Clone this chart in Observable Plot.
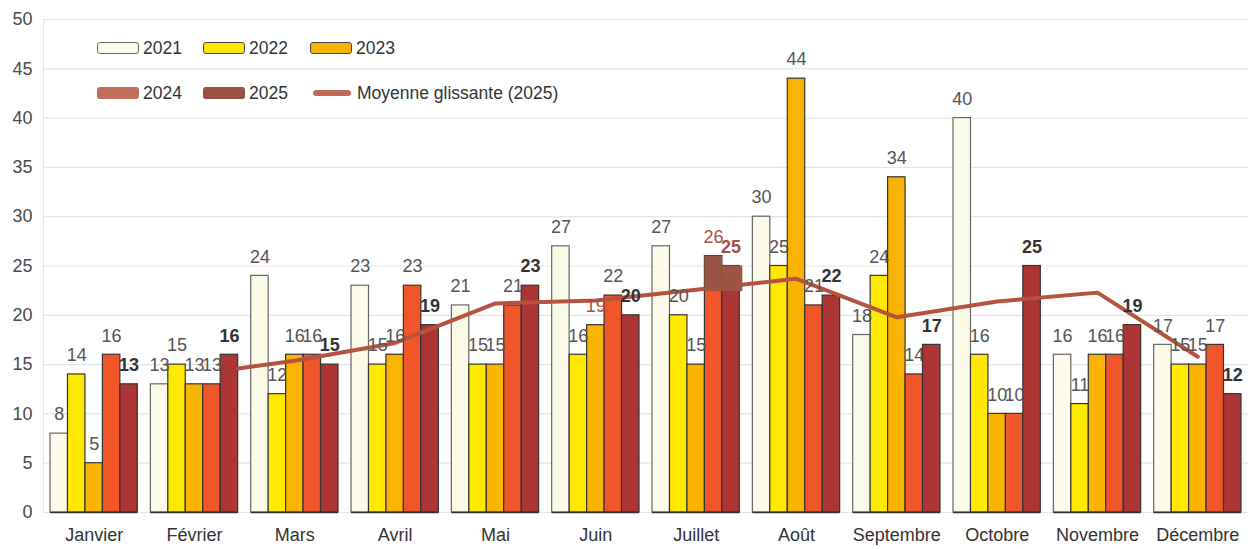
<!DOCTYPE html>
<html><head><meta charset="utf-8">
<script src="https://cdn.jsdelivr.net/npm/d3@7"></script>
<script src="https://cdn.jsdelivr.net/npm/@observablehq/plot@0.6"></script>
<style>
body{margin:0;background:#fff;font-family:"Liberation Sans",Arial,sans-serif;}
#wrap{position:relative;width:1248px;height:549px;overflow:hidden;}
.lg{position:absolute;display:flex;align-items:center;font-size:17.5px;color:#333;white-space:nowrap;height:20px;}
.sw{width:42px;height:12px;border-radius:3px;margin-right:4px;box-sizing:border-box;}
.ln{width:38px;height:6px;border-radius:3px;margin-right:6px;}
</style></head><body><div id="wrap"></div>
<script>
const months = ["Janvier","Février","Mars","Avril","Mai","Juin","Juillet","Août","Septembre","Octobre","Novembre","Décembre"];
const years = [2021, 2022, 2023, 2024, 2025];
const v2021 = [8, 13, 24, 23, 21, 27, 27, 30, 18, 40, 16, 17];
const v2022 = [14, 15, 12, 15, 15, 16, 20, 25, 24, 16, 11, 15];
const v2023 = [5, 13, 16, 16, 15, 19, 15, 44, 34, 10, 16, 15];
const v2024 = [16, 13, 16, 23, 21, 22, 26, 21, 14, 10, 16, 17];
const v2025 = [13, 16, 15, 19, 23, 20, 25, 22, 17, 25, 19, 12];
const moyenne = [null, 14.6, 15.4, 17.2, 21.2, 21.5, 22.6, 23.7, 19.8, 21.4, 22.3, 15.8];
const yTicks = [0, 5, 10, 15, 20, 25, 30, 35, 40, 45, 50];
const highlighted = [["Juin", 2023], ["Juillet", 2024], ["Juillet", 2025]];

const series = [v2021, v2022, v2023, v2024, v2025];
const fills = {2021: "#fcfbea", 2022: "#ffe900", 2023: "#f8b400", 2024: "#f0562a", 2025: "#ad3535"};
const strokes = {2021: "#666", 2022: "#333", 2023: "#333", 2024: "#333", 2025: "#333"};
const legendFills = {2021: "#fcfbea", 2022: "#ffe900", 2023: "#f8b400", 2024: "#c0705a", 2025: "#9a5042"};

const gw = 0.87, bw = gw / 5;
const rows = [];
months.forEach((month, m) => {
  years.forEach((year, j) => {
    const x1 = m - gw / 2 + j * bw;
    rows.push({month, m, year, value: series[j][m], x1, x2: x1 + bw, xc: x1 + bw / 2,
      hl: highlighted.some(([hm, hy]) => hm === month && hy === year)});
  });
});
// the rolling average begins at the right edge of its first month's group
const firstIdx = moyenne.findIndex(v => v != null);
const lineData = months.map((month, m) => ({x: m === firstIdx ? m + gw / 2 : m, v: moyenne[m]})).filter(d => d.v != null);
const julyTop = rows.filter(d => d.month === "Juillet" && d.year >= 2024);
const julyBase = moyenne[months.indexOf("Juillet")];

const chart = Plot.plot({
  width: 1248,
  height: 549,
  marginLeft: 43,
  marginRight: 0,
  marginTop: 19,
  marginBottom: 37,
  style: {fontFamily: "'Liberation Sans', Arial, sans-serif", background: "#fff"},
  x: {domain: [-0.505, 11.505], axis: null},
  y: {domain: [0, 50], axis: null},
  marks: [
    Plot.ruleY(yTicks, {stroke: "#e5e5e5", strokeWidth: 1.2}),
    Plot.ruleX([-0.505], {y1: 0, y2: 50, stroke: "#e5e5e5"}),
    Plot.axisY(yTicks, {tickSize: 0, tickPadding: 11, fontSize: 18, fill: "#4a4a4a", stroke: null}),
    Plot.axisX(d3.range(12), {tickFormat: i => months[i], tickSize: 0, tickPadding: 16, fontSize: 18, fill: "#333"}),
    Plot.rectY(rows, {x1: "x1", x2: "x2", y1: 0, y2: "value", fill: d => fills[d.year], stroke: d => strokes[d.year], strokeWidth: 1.2}),
    Plot.ruleY(months.map((mo, m) => m), {y: 0, x1: m => m - gw / 2, x2: m => m + gw / 2, stroke: "#333", strokeWidth: 1.5}),
    Plot.line(lineData, {x: "x", y: "v", stroke: "#b5533f", strokeWidth: 4, strokeLinejoin: "round", strokeLinecap: "round"}),
    Plot.rectY(julyTop, {x1: "x1", x2: d => d.x2 + (d.year === 2025 ? 0.03 : 0), y1: julyBase - 0.2, y2: "value", fill: "#9c5444"}),
    Plot.text(rows.filter(d => d.year < 2025), {x: "xc", y: "value", text: d => String(d.value), dy: -19, fontSize: 18, fill: d => d.hl ? "#a9503b" : "#555", lineAnchor: "middle"}),
    Plot.text(rows.filter(d => d.year === 2025), {x: "xc", y: "value", text: d => String(d.value), dy: -19, fontSize: 18, fontWeight: "bold", fill: d => d.hl ? "#a9503b" : "#333", lineAnchor: "middle"})
  ]
});
const wrap = document.getElementById("wrap");
wrap.appendChild(chart);

const legendItems = [
  {label: "2021", year: 2021, left: 97, top: 38},
  {label: "2022", year: 2022, left: 203, top: 38},
  {label: "2023", year: 2023, left: 310, top: 38},
  {label: "2024", year: 2024, left: 97, top: 83},
  {label: "2025", year: 2025, left: 203, top: 83},
  {label: "Moyenne glissante (2025)", year: null, left: 313, top: 83}
];
legendItems.forEach(it => {
  const d = document.createElement("div");
  d.className = "lg";
  d.style.left = it.left + "px";
  d.style.top = it.top + "px";
  const s = document.createElement("div");
  if (it.year) {
    s.className = "sw";
    s.style.background = legendFills[it.year];
    if (it.year <= 2023) s.style.border = "1.5px solid " + (it.year === 2021 ? "#666" : "#444");
  } else {
    s.className = "ln";
    s.style.background = "#c06a55";
  }
  d.appendChild(s);
  const t = document.createElement("span");
  t.textContent = it.label;
  d.appendChild(t);
  wrap.appendChild(d);
});
</script></body></html>
